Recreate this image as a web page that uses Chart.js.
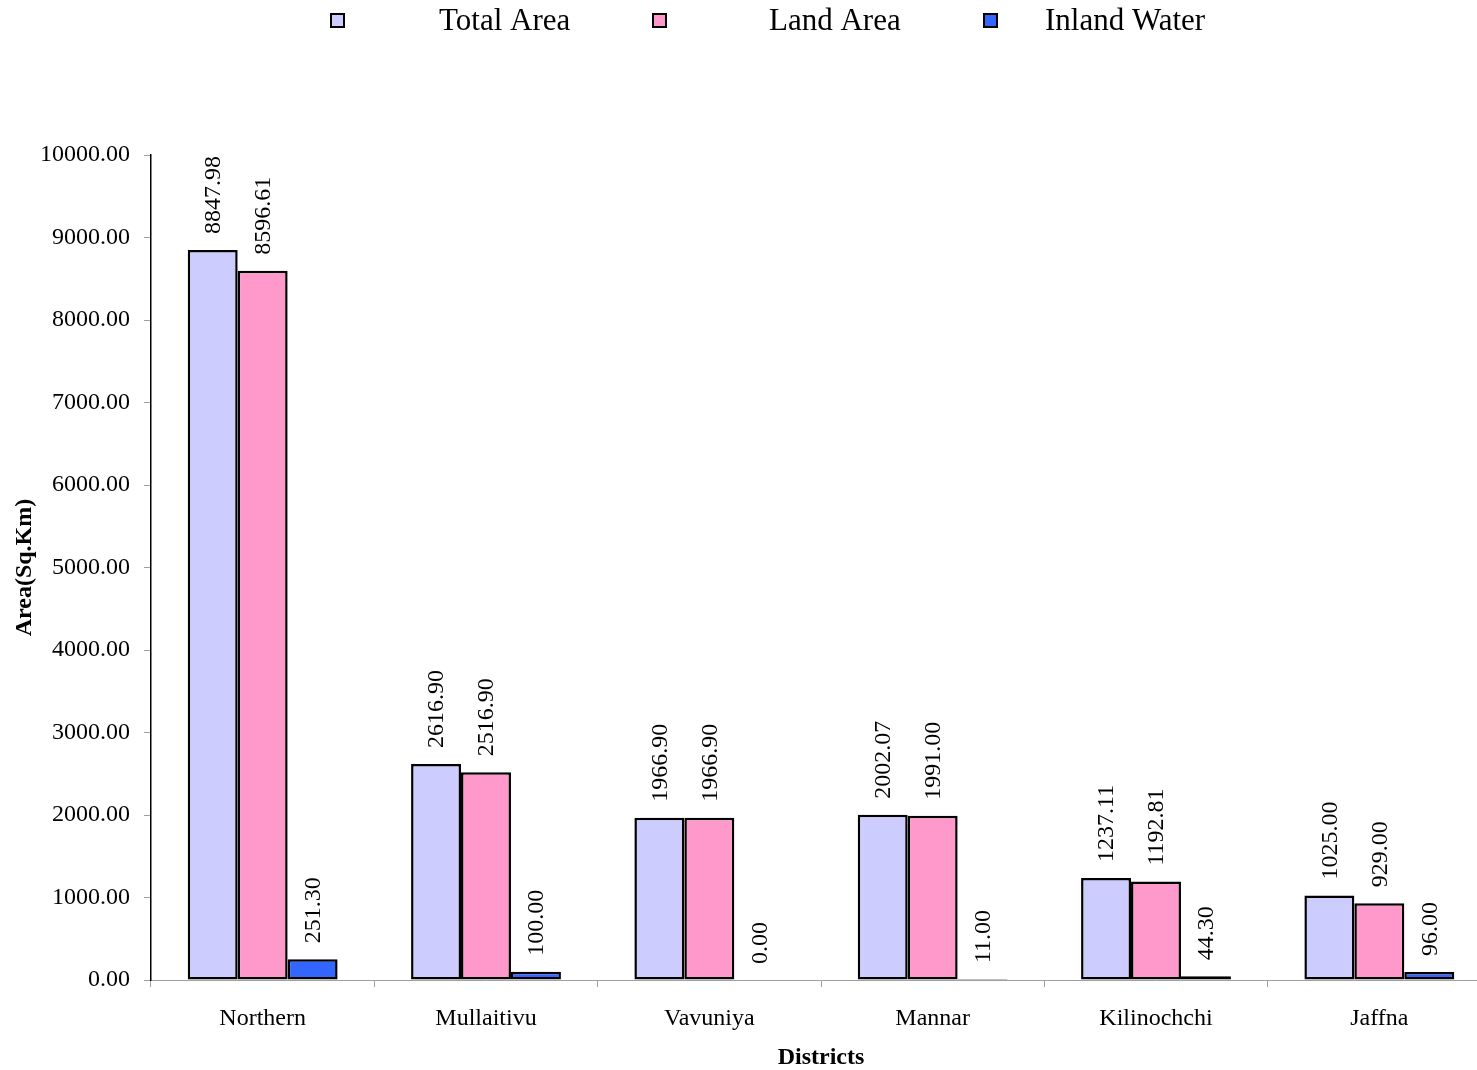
<!DOCTYPE html>
<html>
<head>
<meta charset="utf-8">
<script src="https://cdn.jsdelivr.net/npm/chart.js@4/dist/chart.umd.min.js"></script>
<style>
  html, body { margin: 0; padding: 0; background: #fff; overflow: hidden; }
  #wrap { width: 1491px; height: 1070px; }
</style>
</head>
<body>
<div id="wrap"><canvas id="area-chart" width="1491" height="1070"></canvas></div>
<script>
const districts = ['Northern', 'Mullaitivu', 'Vavuniya', 'Mannar', 'Kilinochchi', 'Jaffna'];
const totalArea = [8847.98, 2616.90, 1966.90, 2002.07, 1237.11, 1025.00];
const landArea = [8596.61, 2516.90, 1966.90, 1991.00, 1192.81, 929.00];
const inlandWater = [251.30, 100.00, 0.00, 11.00, 44.30, 96.00];

const FONT = '"Liberation Serif", "Times New Roman", serif';

// values drawn above each bar, turned on their side
const barLabels = {
  id: 'barLabels',
  afterDatasetsDraw(chart) {
    const ctx = chart.ctx;
    ctx.save();
    ctx.font = '24px ' + FONT;
    ctx.fillStyle = '#000';
    ctx.textAlign = 'left';
    ctx.textBaseline = 'middle';
    chart.data.datasets.forEach((ds, i) => {
      chart.getDatasetMeta(i).data.forEach((bar, j) => {
        ctx.save();
        ctx.translate(bar.x + 1, bar.y - 16);
        ctx.rotate(-Math.PI / 2);
        ctx.fillText(ds.data[j].toFixed(2), 0, 0);
        ctx.restore();
      });
    });
    ctx.restore();
  }
};

// legend row at the top, wide gap between box and text like the original
const topLegend = {
  id: 'topLegend',
  afterDraw(chart) {
    const ctx = chart.ctx;
    const boxX = [331, 653, 984];
    const textX = [439, 769, 1045];
    ctx.save();
    ctx.font = '31px ' + FONT;
    ctx.textBaseline = 'middle';
    ctx.textAlign = 'left';
    chart.data.datasets.forEach((ds, i) => {
      ctx.fillStyle = ds.backgroundColor;
      ctx.fillRect(boxX[i], 14, 13, 13);
      ctx.lineWidth = 2;
      ctx.strokeStyle = '#000';
      ctx.strokeRect(boxX[i], 14, 13, 13);
      ctx.fillStyle = '#000';
      ctx.fillText(ds.label, textX[i], 22);
    });
    ctx.restore();
  }
};

const areaChart = new Chart(document.getElementById('area-chart'), {
  type: 'bar',
  data: {
    labels: districts,
    datasets: [
      { label: 'Total Area', data: totalArea, backgroundColor: '#CCCCFF' },
      { label: 'Land Area', data: landArea, backgroundColor: '#FF99CC' },
      { label: 'Inland Water', data: inlandWater, backgroundColor: '#3366FF' }
    ]
  },
  options: {
    responsive: false,
    animation: false,
    devicePixelRatio: 1,
    layout: { padding: { top: 155, left: 0, right: 0, bottom: 0 } },
    datasets: {
      bar: {
        borderColor: '#000',
        borderWidth: 2.5,
        borderSkipped: false,
        categoryPercentage: 0.671,
        barPercentage: 1.0
      }
    },
    plugins: {
      legend: { display: false },
      tooltip: { enabled: false }
    },
    scales: {
      x: {
        afterFit: function (scale) { scale.height = 90; },
        border: { color: '#a0a0a0', width: 1 },
        grid: { display: true, drawOnChartArea: false, color: '#a0a0a0', tickLength: 7, offset: true },
        ticks: { color: '#000', font: { family: FONT, size: 24 }, padding: 17, maxRotation: 0 },
        title: {
          display: true,
          text: 'Districts',
          color: '#000',
          font: { family: FONT, size: 24, weight: 'bold', lineHeight: 1 },
          padding: { top: 0, bottom: 0 }
        }
      },
      y: {
        min: 0,
        max: 10000,
        afterFit: function (scale) { scale.width = 151; },
        border: { color: '#000', width: 1.5 },
        grid: { display: true, drawOnChartArea: false, color: '#a0a0a0', tickLength: 7 },
        ticks: {
          stepSize: 1000,
          color: '#000',
          font: { family: FONT, size: 24 },
          padding: 14,
          callback: function (value) { return Number(value).toFixed(2); }
        },
        title: {
          display: true,
          text: 'Area(Sq.Km)',
          color: '#000',
          font: { family: FONT, size: 24, weight: 'bold', lineHeight: 1 },
          padding: { top: 13, bottom: 0 }
        }
      }
    }
  },
  plugins: [barLabels, topLegend]
});
</script>
</body>
</html>
